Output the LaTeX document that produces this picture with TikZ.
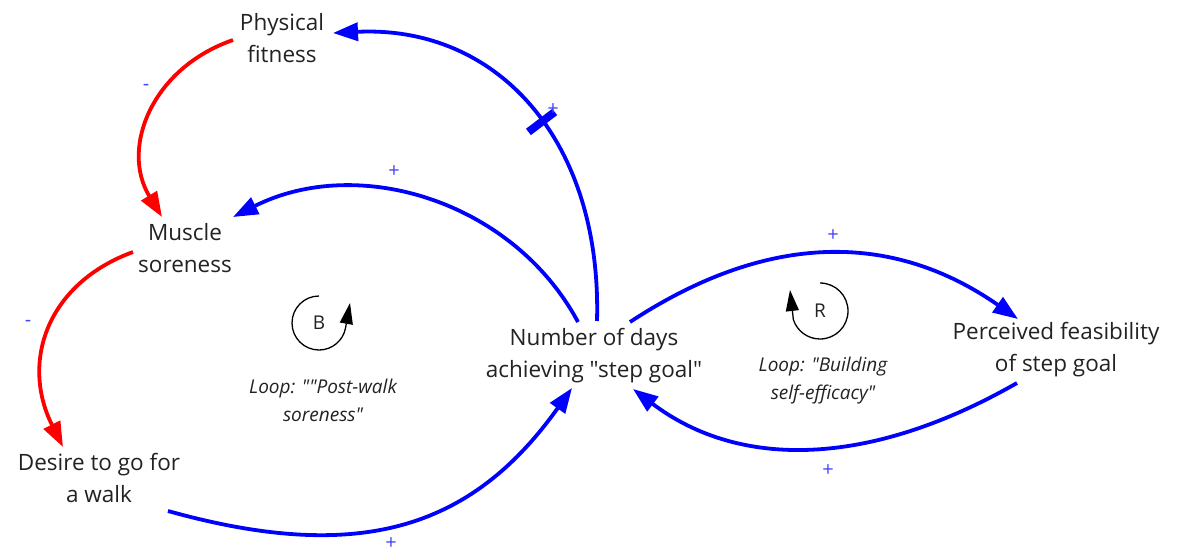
\documentclass[tikz,border=0pt]{standalone}
\usepackage{fontspec}
\setmainfont{Open Sans}[Ligatures=TeXOff]
\usetikzlibrary{arrows.meta,calc}
\definecolor{txt}{HTML}{222222}
\definecolor{pblue}{HTML}{0000FF}
\definecolor{nred}{HTML}{FF0000}
\definecolor{lblue}{HTML}{4444FF}
\tikzset{
  var/.style={align=center, text=txt, font=\fontsize{22.5}{32}\selectfont, inner sep=0pt},
  looplbl/.style={align=center, text=txt, font=\fontsize{19}{28}\itshape\selectfont, inner sep=0pt},
  pol/.style={text=lblue, font=\fontsize{20}{20}\selectfont, inner sep=0pt},
  loopsym/.style={text=txt, font=\fontsize{19}{20}\selectfont, inner sep=0pt},
  poslink/.style={draw=pblue, line width=3.8pt, -{Triangle[length=25pt,width=18pt]}},
  neglink/.style={draw=nred, line width=3.8pt, -{Triangle[length=25pt,width=18pt]}},
  delaymark/.style={fill=pblue, rectangle, minimum width=8pt, minimum height=33pt, inner sep=0pt},
  looparrow/.style={draw=black, line width=1.3pt, -{Triangle[length=21pt,width=13pt]}}
}
\begin{document}
\begin{tikzpicture}[x=1pt,y=-1pt]
\useasboundingbox (0,0) rectangle (1177,554);
% variables
\node[var] (pf) at (282,38) {Physical\\fitness};
\node[var] (ms) at (185,248) {Muscle\\soreness};
\node[var] (dw) at (99,478) {Desire to go for\\a walk};
\node[var] (nd) at (594,356) {Number of days\\achieving "step goal"};
\node[var] (pe) at (1056,350) {Perceived feasibility\\of step goal};
% loop labels
\node[loopsym] (lb) at (319,323) {B};
\node[loopsym] (lr) at (820,311) {R};
\node[looplbl] (lbB) at (323,400) {Loop: ""Post-walk\\soreness"};
\node[looplbl] (lbR) at (823,381) {Loop: "Building\\self-efficacy"};
% connectors
\draw[neglink] ($(pf)+(-49,2)$) .. controls +(-81,28) and +(-42,-69) .. ($(ms)+(-23,-31)$);
\draw[neglink] ($(ms)+(-52,4)$) .. controls +(-85,31) and +(-43,-86) .. ($(dw)+(-36,-31)$);
\draw[poslink] ($(dw)+(69,33)$) .. controls +(190,53) and +(-101,142) .. ($(nd)+(-22,32)$);
\draw[poslink] ($(nd)+(-16,-34)$) .. controls +(-65,-121) and +(125,-63) .. ($(ms)+(48,-31)$);
\draw[poslink] ($(nd)+(3,-35)$) .. controls +(5,-181) and +(164,-8) .. node[pos=0.45, sloped, delaymark] (dl) {} ($(pf)+(51,-5)$);
\draw[poslink] ($(nd)+(36,-34)$) .. controls +(137,-90) and +(-126,-88) .. ($(pe)+(-38,-31)$);
\draw[poslink] ($(pe)+(-39,33)$) .. controls +(-147,84) and +(107,81) .. ($(nd)+(39,33)$);
% polarities
\node[pol] (s1) at (146,87) {-};
\node[pol] (s2) at (28,323) {-};
\node[pol] (s3) at (391,544) {+};
\node[pol] (s4) at (394,172) {+};
\node[pol] (s5) at (553,110) {+};
\node[pol] (s6) at (833,236) {+};
\node[pol] (s7) at (828,471) {+};
% loop symbols
\draw[looparrow] ($(lb)+(0,-27)$) arc[start angle=270, end angle=10, radius=27] -- ($(lb)+(31,-20)$);
\draw[looparrow] ($(lr)+(0,-28)$) arc[start angle=270, end angle=522, radius=28] -- ($(lr)+(-30,-21)$);
\end{tikzpicture}
\end{document}
